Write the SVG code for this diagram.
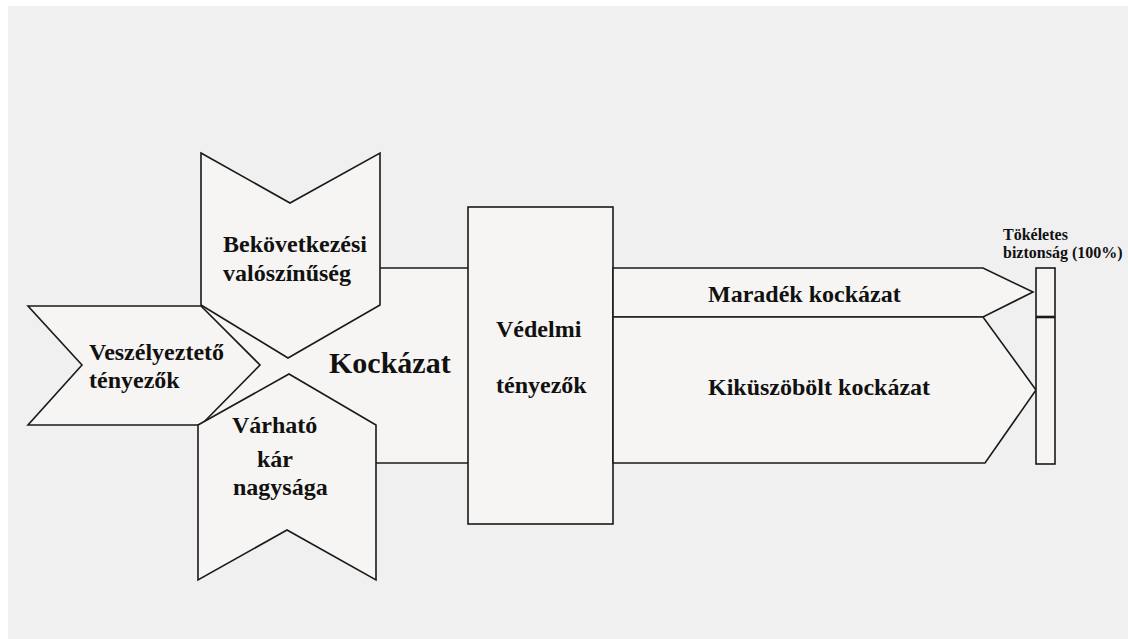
<svg xmlns="http://www.w3.org/2000/svg" width="1128" height="639" viewBox="0 0 1128 639">
  <style>
    .shape { fill: #f7f5f3; stroke: #1a1a1a; stroke-width: 1.6; stroke-linejoin: miter; }
    .line { fill: none; stroke: #1a1a1a; stroke-width: 1.6; }
    .lbl { font-family: "Liberation Serif", "Times New Roman", serif; font-weight: bold; font-size: 24px; fill: #111; }
    .big { font-size: 30px; }
    .small { font-size: 16px; }
  </style>

  <!-- page -->
  <rect x="0" y="0" width="1128" height="639" fill="#ffffff"/>
  <rect x="8" y="6" width="1120" height="633" fill="#f0f0f0"/>

  <!-- central risk field -->
  <g id="kockazat">
    <rect x="201" y="268" width="269" height="195" fill="#f7f5f3"/>
  </g>

  <g id="connectors">
    <line class="line" x1="380" y1="268" x2="470" y2="268"/>
    <line class="line" x1="376" y1="463" x2="470" y2="463"/>
  </g>

  <g id="bekovetkezesi">
    <polygon class="shape" points="201,153 290,203 380,153 380,305 288,358 201,305"/>
    <text class="lbl" x="223" y="252">Bekövetkezési</text>
    <text class="lbl" x="223" y="281">valószínűség</text>
  </g>

  <g id="veszelyezteto">
    <polygon class="shape" points="28,306 201,306 260,365 201,425 28,425 82,365"/>
    <text class="lbl" x="89" y="360">Veszélyeztető</text>
    <text class="lbl" x="89" y="388">tényezők</text>
  </g>

  <g id="varhato">
    <polygon class="shape" points="198,425 289,374 376,425 376,580 287,530 198,580"/>
    <text class="lbl" x="232" y="433">Várható</text>
    <text class="lbl" x="257" y="467">kár</text>
    <text class="lbl" x="233" y="495">nagysága</text>
  </g>

  <g id="kockazat-label">
    <text class="lbl big" x="329" y="373">Kockázat</text>
  </g>

  <g id="vedelmi">
    <rect class="shape" x="468" y="207" width="145" height="317"/>
    <text class="lbl" x="496" y="337">Védelmi</text>
    <text class="lbl" x="496" y="393">tényezők</text>
  </g>

  <g id="maradek">
    <polygon class="shape" points="613,268 983,268 1033,292 983,317 613,317"/>
    <text class="lbl" x="708" y="302">Maradék kockázat</text>
  </g>

  <g id="kikuszobolt">
    <polygon class="shape" points="613,317 983,317 1036,390 985,463 613,463"/>
    <text class="lbl" x="708" y="395">Kiküszöbölt kockázat</text>
  </g>

  <g id="tokeletes">
    <rect class="shape" x="1036" y="268" width="19" height="196"/>
    <line x1="1036" y1="317" x2="1055" y2="317" stroke="#1a1a1a" stroke-width="2.6"/>
    <text class="lbl small" x="1003" y="240">Tökéletes</text>
    <text class="lbl small" x="1003" y="258">biztonság (100%)</text>
  </g>
</svg>
